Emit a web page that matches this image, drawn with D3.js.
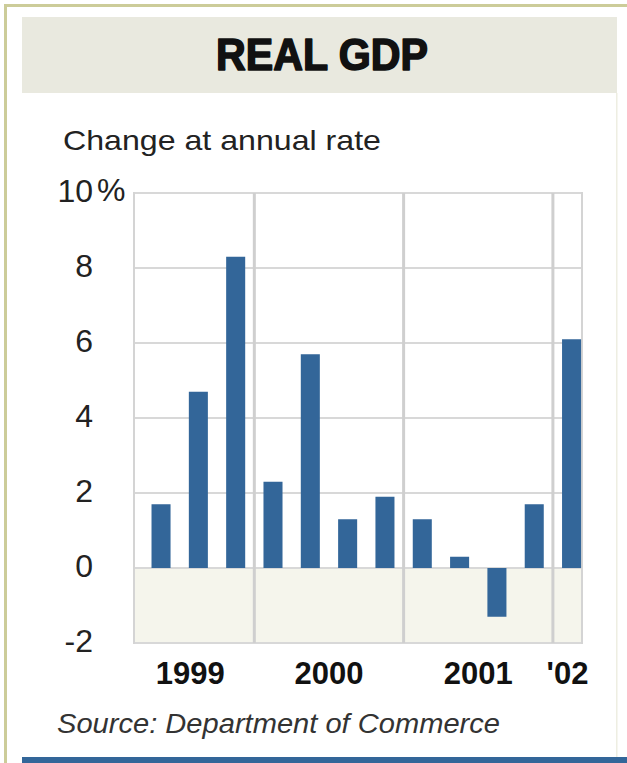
<!DOCTYPE html>
<html>
<head>
<meta charset="utf-8">
<script src="https://cdn.jsdelivr.net/npm/d3@7"></script>
<style>
  html, body { margin: 0; padding: 0; background: #ffffff; }
  svg { display: block; }
  text { font-family: "Liberation Sans", Arial, Helvetica, sans-serif; }
</style>
</head>
<body>
<svg id="chart" width="627" height="763"></svg>
<script>
// ---- data ----
const quarters = ["1999 Q2","1999 Q3","1999 Q4","2000 Q1","2000 Q2","2000 Q3","2000 Q4","2001 Q1","2001 Q2","2001 Q3","2001 Q4","2002 Q1"];
const gdpChange = [1.7, 4.7, 8.3, 2.3, 5.7, 1.3, 1.9, 1.3, 0.3, -1.3, 1.7, 6.1];
const years = ["1999","2000","2001","2002"];
const yearLabels = ["1999","2000","2001","'02"];
const yTicks = [-2, 0, 2, 4, 6, 8, 10];
const title = "REAL GDP";
const subtitle = "Change at annual rate";
const source = "Source: Department of Commerce";

// ---- layout ----
const svg = d3.select("#chart");
const plot = { left: 134, right: 582, top: 193, bottom: 643 };

// frame
svg.append("rect").attr("x", 4).attr("y", 4).attr("width", 623).attr("height", 3).attr("fill", "#cccc99");
svg.append("rect").attr("x", 4).attr("y", 4).attr("width", 3).attr("height", 759).attr("fill", "#cccc99");
// title band
svg.append("rect").attr("x", 22).attr("y", 17).attr("width", 595).attr("height", 76).attr("fill", "#e9e9df");
// right faint border of panel
svg.append("rect").attr("x", 616).attr("y", 93).attr("width", 1.5).attr("height", 664).attr("fill", "#eeeee2");
// bottom blue rule
svg.append("rect").attr("x", 22).attr("y", 757).attr("width", 605).attr("height", 6).attr("fill", "#336699");

svg.append("text").attr("x", 322).attr("y", 70).attr("text-anchor", "middle")
  .attr("font-size", 44).attr("font-weight", "bold").attr("fill", "#111")
  .attr("stroke", "#111").attr("stroke-width", 1.6).attr("stroke-linejoin", "round")
  .attr("textLength", 212).attr("lengthAdjust", "spacingAndGlyphs")
  .text(title);

svg.append("text").attr("x", 63).attr("y", 150)
  .attr("font-size", 28).attr("fill", "#222")
  .attr("textLength", 318).attr("lengthAdjust", "spacingAndGlyphs")
  .text(subtitle);

// ---- scales ----
const x = d3.scaleBand().domain(quarters).range([plot.left, plot.right])
  .paddingInner(0.49).paddingOuter(0.247).align(0.95);
const y = d3.scaleLinear().domain([-2, 10]).range([plot.bottom, plot.top]);

// negative region fill
svg.append("rect").attr("x", plot.left).attr("y", y(0))
  .attr("width", plot.right - plot.left).attr("height", y(-2) - y(0))
  .attr("fill", "#f5f5ec");

// horizontal grid
svg.append("g").selectAll("line").data(yTicks).join("line")
  .attr("x1", plot.left).attr("x2", plot.right)
  .attr("y1", d => y(d)).attr("y2", d => y(d))
  .attr("stroke", "#d8d8d8").attr("stroke-width", 2);

// year separators
const yearIdx = years.map(yr => quarters.map((q, i) => q.startsWith(yr) ? i : -1).filter(i => i >= 0));
const seps = [];
for (let k = 0; k < yearIdx.length - 1; k++) {
  const last = quarters[yearIdx[k][yearIdx[k].length - 1]];
  const first = quarters[yearIdx[k + 1][0]];
  seps.push((x(last) + x.bandwidth() + x(first)) / 2);
}
svg.append("g").selectAll("line").data(seps).join("line")
  .attr("x1", d => d).attr("x2", d => d)
  .attr("y1", plot.top).attr("y2", plot.bottom)
  .attr("stroke", "#cfcfcf").attr("stroke-width", 3);

// plot border (left, right)
svg.append("line").attr("x1", plot.left).attr("x2", plot.left).attr("y1", plot.top - 1).attr("y2", plot.bottom + 1)
  .attr("stroke", "#d4d4d4").attr("stroke-width", 2);
svg.append("line").attr("x1", plot.right).attr("x2", plot.right).attr("y1", plot.top - 1).attr("y2", plot.bottom + 1)
  .attr("stroke", "#d4d4d4").attr("stroke-width", 2);

// bars
svg.append("g").selectAll("rect").data(quarters).join("rect")
  .attr("x", q => x(q))
  .attr("width", x.bandwidth())
  .attr("y", (q, i) => y(Math.max(0, gdpChange[i])))
  .attr("height", (q, i) => Math.abs(y(gdpChange[i]) - y(0)))
  .attr("fill", "#336699");

// y axis
const yAxis = d3.axisLeft(y).tickValues(yTicks).tickSize(0).tickPadding(3).tickFormat(d => d);
const gy = svg.append("g").attr("transform", "translate(96,0)").call(yAxis);
gy.select(".domain").remove();
gy.selectAll("text").attr("font-size", 32).attr("fill", "#222").attr("dy", "0.26em")
  .attr("font-family", "'Liberation Sans', Arial, sans-serif");
svg.append("text").attr("x", 97).attr("y", y(10)).attr("dy", "0.26em")
  .attr("font-size", 32).attr("fill", "#222").text("%");

// year labels
const bounds = [plot.left, ...seps, plot.right];
svg.append("g").selectAll("text").data(yearLabels).join("text")
  .attr("x", (d, i) => (bounds[i] + bounds[i + 1]) / 2 - (i === 0 ? 4 : 0))
  .attr("y", 684)
  .attr("text-anchor", "middle")
  .attr("font-size", 31).attr("font-weight", "bold").attr("fill", "#111")
  .text(d => d);

// source
svg.append("text").attr("x", 57).attr("y", 733)
  .attr("font-size", 27).attr("font-style", "italic").attr("fill", "#333")
  .attr("textLength", 443).attr("lengthAdjust", "spacingAndGlyphs")
  .text(source);
</script>
</body>
</html>
